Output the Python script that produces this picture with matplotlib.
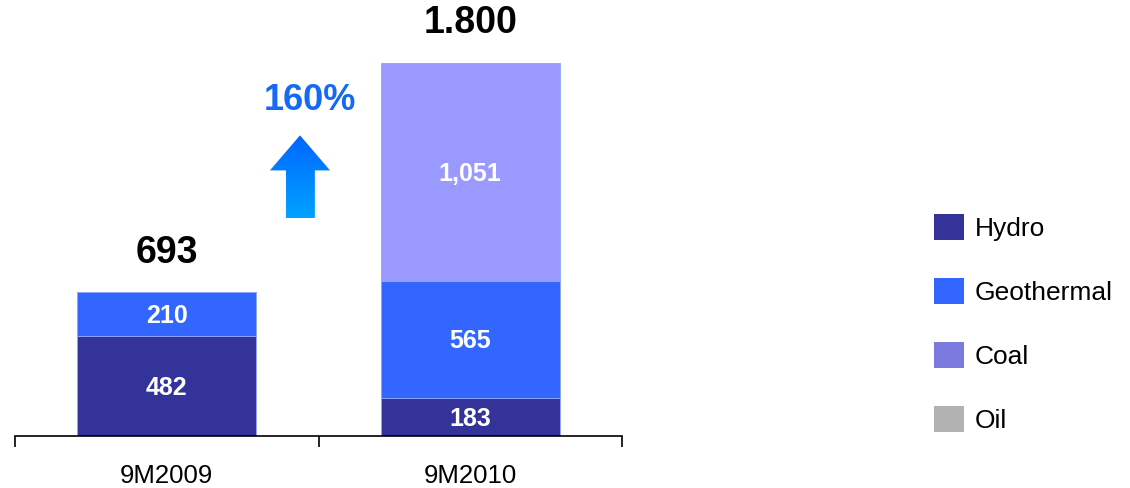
import numpy as np
import matplotlib
matplotlib.use("Agg")
import matplotlib.pyplot as plt
from matplotlib.patches import Polygon, Patch

plt.rcParams["font.family"] = ["Liberation Sans", "DejaVu Sans"]

periods = ["9M2009", "9M2010"]
hydro = [482, 183]
geothermal = [210, 565]
coal = [0, 1051]
oil = [0, 0]
total_labels = ["693", "1.800"]
growth_label = "160%"

bar_colors = {"Hydro": "#333399", "Geothermal": "#3366FF", "Coal": "#9999FF", "Oil": "#B2B2B2"}
legend_colors = {"Hydro": "#333399", "Geothermal": "#3366FF", "Coal": "#7B7BDF", "Oil": "#B2B2B2"}

fig = plt.figure(figsize=(11.3, 4.88), dpi=100)
ax = fig.add_axes([15 / 1130, 1 - 436 / 488, 607 / 1130, 415 / 488])

x = np.arange(len(periods))
width = 0.59
bottom = np.zeros(len(periods))
series = [("Hydro", hydro), ("Geothermal", geothermal), ("Coal", coal), ("Oil", oil)]
for name, vals in series:
    vals = np.array(vals, dtype=float)
    ax.bar(x, vals, width, bottom=bottom, color=bar_colors[name],
           edgecolor="#8fa6ff", linewidth=0.6, zorder=2)
    for xi, b, v in zip(x, bottom, vals):
        if v > 0:
            ax.text(xi, b + v / 2 - 10, f"{int(v):,}", ha="center", va="center",
                    color="white", fontsize=18, fontweight="bold", zorder=3)
    bottom += vals

for xi, tot, lab in zip(x, bottom, total_labels):
    ax.text(xi, tot + 105, lab, ha="center", va="bottom", fontsize=27,
            fontweight="bold", color="black")

# growth arrow with gradient fill
ax_x0, ax_x1 = 0.340, 0.538
sx0, sx1 = 0.393, 0.488
y0, y1, y2 = 1049, 1280, 1449
arrow = Polygon([(sx0, y0), (sx1, y0), (sx1, y1), (ax_x1, y1),
                 ((ax_x0 + ax_x1) / 2, y2), (ax_x0, y1), (sx0, y1)],
                closed=True, facecolor="none", edgecolor="none")
ax.add_patch(arrow)
grad = np.linspace(0, 1, 256).reshape(-1, 1)
cmap = matplotlib.colors.LinearSegmentedColormap.from_list("g", ["#00A2FF", "#0066FF"])
img = ax.imshow(grad, cmap=cmap, extent=[ax_x0, ax_x1, y0, y2], origin="lower",
                aspect="auto", zorder=2)
img.set_clip_path(arrow)
ax.text(0.472, 1615, growth_label, ha="center", va="center", fontsize=26,
        fontweight="bold", color="#1469F5")

ax.set_xlim(-0.5, 1.5)
ax.set_ylim(0, 2000)
for s in ["top", "right", "left"]:
    ax.spines[s].set_visible(False)
ax.spines["bottom"].set_linewidth(1.2)
ax.set_yticks([])
ax.set_xticks([-0.5, 0.5, 1.5])
ax.set_xticklabels([])
ax.tick_params(axis="x", length=8, width=1.2, direction="out")
for xi, p in zip(x, periods):
    ax.text(xi, -195, p, ha="center", va="center", fontsize=18.5)

handles = [Patch(facecolor=legend_colors[n], edgecolor="none") for n, _ in series]
fig.legend(handles, [n for n, _ in series], loc="upper left",
           bbox_to_anchor=(910 / 1130, 1 - 190 / 488), frameon=False,
           fontsize=19, handlelength=1.15, handleheight=1.15,
           labelspacing=1.4, handletextpad=0.4)

fig.savefig("out.png", dpi=100)
